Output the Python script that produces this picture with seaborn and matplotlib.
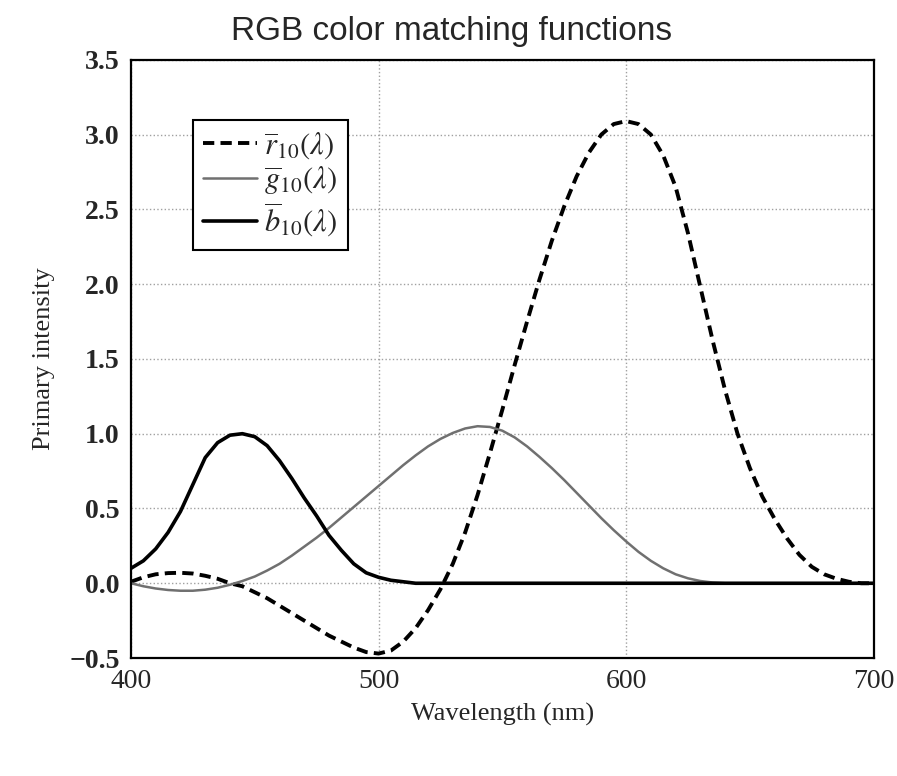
import matplotlib
matplotlib.use("Agg")
import pandas as pd
import seaborn as sns
import matplotlib.pyplot as plt

# wavelength grid (nm), values every 5 nm
wavelength = list(range(400, 705, 5))

r10 = [0.01, 0.04, 0.06, 0.068, 0.07, 0.065, 0.05, 0.03, 0.0, -0.02,
       -0.06, -0.10, -0.15, -0.20, -0.25, -0.30, -0.35, -0.39, -0.43, -0.46,
       -0.47, -0.45, -0.39, -0.30, -0.18, -0.04, 0.13, 0.34, 0.59, 0.87,
       1.16, 1.46, 1.75, 2.03, 2.29, 2.52, 2.72, 2.88, 3.00, 3.07,
       3.09, 3.07, 3.00, 2.86, 2.65, 2.34, 1.98, 1.62, 1.29, 1.00,
       0.77, 0.58, 0.43, 0.30, 0.19, 0.11, 0.06, 0.03, 0.01, 0.0,
       0.0]

g10 = [0.0, -0.02, -0.035, -0.045, -0.05, -0.05, -0.043, -0.03, -0.01, 0.015,
       0.045, 0.085, 0.13, 0.185, 0.245, 0.305, 0.37, 0.44, 0.51, 0.58,
       0.65, 0.72, 0.79, 0.855, 0.915, 0.965, 1.005, 1.035, 1.05, 1.045,
       1.02, 0.975, 0.915, 0.845, 0.77, 0.69, 0.605, 0.52, 0.435, 0.355,
       0.28, 0.21, 0.15, 0.10, 0.06, 0.033, 0.015, 0.005, 0.0, 0.0,
       0.0, 0.0, 0.0, 0.0, 0.0, 0.0, 0.0, 0.0, 0.0, 0.0,
       0.0]

b10 = [0.10, 0.15, 0.23, 0.34, 0.48, 0.66, 0.84, 0.94, 0.99, 1.0,
       0.98, 0.92, 0.82, 0.70, 0.57, 0.45, 0.32, 0.22, 0.13, 0.07,
       0.04, 0.02, 0.01, 0.0, 0.0, 0.0, 0.0, 0.0, 0.0, 0.0,
       0.0, 0.0, 0.0, 0.0, 0.0, 0.0, 0.0, 0.0, 0.0, 0.0,
       0.0, 0.0, 0.0, 0.0, 0.0, 0.0, 0.0, 0.0, 0.0, 0.0,
       0.0, 0.0, 0.0, 0.0, 0.0, 0.0, 0.0, 0.0, 0.0, 0.0,
       0.0]

labels = [r'$\overline{r}_{10}(\lambda)$', r'$\overline{g}_{10}(\lambda)$',
          r'$\overline{b}_{10}(\lambda)$']

x_ticks = [400, 500, 600, 700]
y_ticks = [-0.5, 0.0, 0.5, 1.0, 1.5, 2.0, 2.5, 3.0, 3.5]
y_ticklabels = ['\u22120.5', '0.0', '0.5', '1.0', '1.5', '2.0', '2.5', '3.0', '3.5']

df = pd.DataFrame({'Wavelength': wavelength, 'r': r10, 'g': g10, 'b': b10})

sns.set_style("white")
plt.rcParams['font.family'] = ['Liberation Serif', 'DejaVu Serif']
plt.rcParams['mathtext.fontset'] = 'stix'

fig = plt.figure(figsize=(8.97, 7.76), dpi=100)
ax = fig.add_axes([0.146, 0.152, 0.828, 0.771])

sns.lineplot(x='Wavelength', y='r', data=df, ax=ax, color='black', lw=2.8,
             label=labels[0])
ax.lines[-1].set_dashes([2.9, 1.6])
sns.lineplot(x='Wavelength', y='g', data=df, ax=ax, color='#707070', lw=1.8,
             label=labels[1])
sns.lineplot(x='Wavelength', y='b', data=df, ax=ax, color='black', lw=2.6,
             label=labels[2])
for ln in ax.lines:
    ln.set_solid_joinstyle('round')
    ln.set_dash_joinstyle('round')

ax.set_xlim(400, 700)
ax.set_ylim(-0.5, 3.5)
ax.set_xticks(x_ticks)
ax.set_yticks(y_ticks)
ax.set_yticklabels(y_ticklabels, fontweight='bold')
ax.tick_params(axis='both', labelsize=20, length=0)
ax.tick_params(axis='x', pad=8)
ax.tick_params(axis='y', pad=8)
ax.grid(True, color='#a0a0a0', linestyle=':', linewidth=1.0)
for s in ax.spines.values():
    s.set_color('black')
    s.set_linewidth(1.6)

ax.set_xlabel('Wavelength (nm)', fontsize=19, labelpad=6)
ax.set_ylabel('Primary intensity', fontsize=19, labelpad=10)

leg = ax.legend(loc='upper left', bbox_to_anchor=(0.083, 0.9), borderaxespad=0,
                fontsize=22, frameon=True, fancybox=False, handlelength=1.75,
                borderpad=0.35, labelspacing=0.12, handletextpad=0.25)
leg.get_frame().set_edgecolor('black')
leg.get_frame().set_linewidth(1.5)
leg.get_frame().set_alpha(1)

fig.text(0.503, 0.959, 'RGB color matching functions', ha='center', va='center',
         fontsize=24, family='Liberation Sans')

plt.savefig('out.png', dpi=100)
